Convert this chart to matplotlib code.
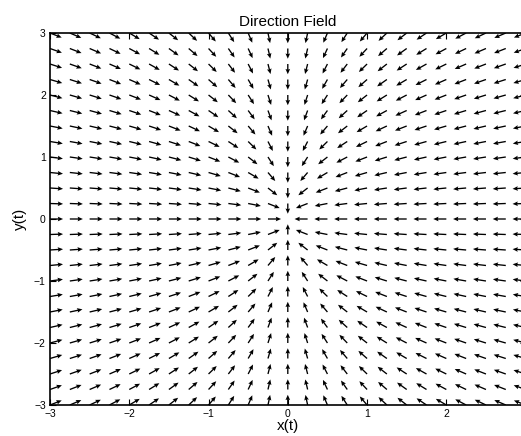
import numpy as np
import matplotlib.pyplot as plt

plt.rcParams['font.family'] = ['Liberation Sans', 'DejaVu Sans']

# grid of starting points for the arrows
x_grid = np.linspace(-3, 3, 25)
y_grid = np.linspace(-3, 3, 25)

# linear system: dx/dt = x_rate * x, dy/dt = y_rate * y
x_rate = -2.0
y_rate = -1.0
arrow_len = 0.165  # normalized arrow length in data units

x_ticks = [-3, -2, -1, 0, 1, 2]
y_ticks = [-3, -2, -1, 0, 1, 2, 3]

X, Y = np.meshgrid(x_grid, y_grid)
U = x_rate * X
V = y_rate * Y
L = np.hypot(U, V)
zero = L == 0
L[zero] = 1.0
U = np.ma.masked_where(zero, U / L * arrow_len)
V = np.ma.masked_where(zero, V / L * arrow_len)

fig = plt.figure(figsize=(5.21, 4.36), dpi=100)
ax = fig.add_axes([50 / 521, 31 / 436, 475.6 / 521, 372 / 436])
ax.quiver(X, Y, U, V, angles='xy', scale_units='xy', scale=1, pivot='tail',
          color='k', width=0.0028, headwidth=3.5, headlength=4, headaxislength=3.5)

ax.set_xlim(-3, 3)
ax.set_ylim(-3, 3)
ax.set_xticks(x_ticks)
ax.set_yticks(y_ticks)
ax.tick_params(direction='in', top=True, right=True, length=4, width=0.8,
               labelsize=7.5, pad=3)
for s in ax.spines.values():
    s.set_linewidth(1.2)

ax.set_title('Direction Field', fontsize=11, pad=5)
ax.set_xlabel('x(t)', fontsize=11, labelpad=0)
ax.set_ylabel('y(t)', fontsize=11, labelpad=5)

fig.savefig('out.png', dpi=100)
